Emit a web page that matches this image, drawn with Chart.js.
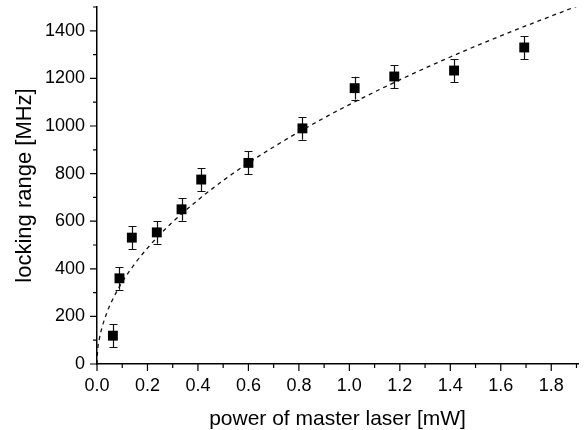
<!DOCTYPE html>
<html>
<head>
<meta charset="utf-8">
<script src="https://cdn.jsdelivr.net/npm/chart.js@4.4.0/dist/chart.umd.min.js"></script>
<style>
html,body{margin:0;padding:0;background:#fff;}
#wrap{width:585px;height:430px;}
</style>
</head>
<body>
<div id="wrap"><canvas id="c" width="585" height="430"></canvas></div>
<script>
const powerMW = [0.063, 0.089, 0.138, 0.237, 0.335, 0.413, 0.600, 0.814, 1.021, 1.178, 1.415, 1.693];
const lockingMHz = [119, 360, 531, 553, 650, 775, 845, 990, 1159, 1208, 1233, 1330];
const errMHz = [48, 48, 48, 48, 48, 48, 48, 48, 48, 48, 48, 48];

// Dashed fit curve
const fitX = [0.0, 0.002, 0.01, 0.02, 0.04, 0.06, 0.08, 0.1, 0.15, 0.2, 0.25, 0.3, 0.4, 0.5, 0.6, 0.7, 0.8, 0.9, 1.0, 1.2, 1.4, 1.6, 1.8, 1.906];
const fitY = [0, 49, 109, 154, 218, 267, 308, 345, 422, 487, 545, 597, 689, 771, 845, 912, 975, 1034, 1090, 1194, 1290, 1379, 1462, 1505];

// Axis tick values
const xTicks = [0.0, 0.2, 0.4, 0.6, 0.8, 1.0, 1.2, 1.4, 1.6, 1.8];
const xMinor = [0.1, 0.3, 0.5, 0.7, 0.9, 1.1, 1.3, 1.5, 1.7, 1.9];
const yTicks = [0, 200, 400, 600, 800, 1000, 1200, 1400];
const yMinor = [100, 300, 500, 700, 900, 1100, 1300, 1500];

const xTitle = 'power of master laser [mW]';
const yTitle = 'locking range [MHz]';

const FONT = "'Liberation Sans', Arial, sans-serif";

const errorBars = {
  id: 'errorBars',
  beforeDatasetsDraw(chart) {
    const ctx = chart.ctx;
    const xs = chart.scales.x, ys = chart.scales.y;
    ctx.save();
    ctx.strokeStyle = '#111';
    ctx.lineWidth = 1.2;
    powerMW.forEach((p, i) => {
      const px = Math.round(xs.getPixelForValue(p)) + 0.5;
      const yTop = ys.getPixelForValue(lockingMHz[i] + errMHz[i]);
      const yBot = ys.getPixelForValue(lockingMHz[i] - errMHz[i]);
      ctx.beginPath();
      ctx.moveTo(px, yTop); ctx.lineTo(px, yBot);
      ctx.moveTo(px - 4, Math.round(yTop) + 0.5); ctx.lineTo(px + 4, Math.round(yTop) + 0.5);
      ctx.moveTo(px - 4, Math.round(yBot) + 0.5); ctx.lineTo(px + 4, Math.round(yBot) + 0.5);
      ctx.stroke();
    });
    ctx.restore();
  }
};

const tickMarks = {
  id: 'tickMarks',
  afterDraw(chart) {
    const ctx = chart.ctx;
    const xs = chart.scales.x, ys = chart.scales.y;
    const a = chart.chartArea;
    ctx.save();
    ctx.strokeStyle = '#000';
    ctx.lineWidth = 1.2;
    ctx.beginPath();
    xTicks.forEach(v => { const p = xs.getPixelForValue(v); ctx.moveTo(p, a.bottom); ctx.lineTo(p, a.bottom + 7); });
    xMinor.forEach(v => { if (v <= xs.max) { const p = xs.getPixelForValue(v); ctx.moveTo(p, a.bottom); ctx.lineTo(p, a.bottom + 4); } });
    yTicks.forEach(v => { const p = ys.getPixelForValue(v); ctx.moveTo(a.left, p); ctx.lineTo(a.left - 7, p); });
    yMinor.forEach(v => { const p = ys.getPixelForValue(v); ctx.moveTo(a.left, p); ctx.lineTo(a.left - 4, p); });
    ctx.stroke();
    ctx.restore();
  }
};

new Chart(document.getElementById('c'), {
  type: 'scatter',
  data: {
    datasets: [
      {
        type: 'line',
        data: fitX.map((x, i) => ({x, y: fitY[i]})),
        borderColor: '#111',
        borderWidth: 1.3,
        borderDash: [4, 4],
        pointRadius: 0,
        cubicInterpolationMode: 'monotone',
        fill: false,
        order: 2
      },
      {
        data: powerMW.map((x, i) => ({x, y: lockingMHz[i]})),
        pointStyle: 'rect',
        pointRadius: 7,
        backgroundColor: '#000',
        borderColor: '#000',
        borderWidth: 0,
        order: 1
      }
    ]
  },
  options: {
    responsive: false,
    animation: false,
    layout: { padding: { left: 0, right: 3, top: 7, bottom: 0 } },
    plugins: { legend: { display: false }, tooltip: { enabled: false } },
    scales: {
      x: {
        type: 'linear',
        min: 0, max: 1.906,
        afterBuildTicks(s) { s.ticks = xTicks.map(v => ({value: v})); },
        afterFit(s) { s.height = 66; s.paddingLeft = 0; s.paddingRight = 0; },
        grid: { display: false, drawTicks: false },
        border: { display: true, color: '#000', width: 1.5 },
        ticks: {
          color: '#000', padding: 11,
          font: { family: FONT, size: 18 },
          maxRotation: 0,
          callback: v => v.toFixed(1)
        },
        title: { display: true, text: xTitle, color: '#000', font: { family: FONT, size: 21 }, padding: { top: 0, bottom: -2 } }
      },
      y: {
        type: 'linear',
        min: 0, max: 1500,
        afterBuildTicks(s) { s.ticks = yTicks.map(v => ({value: v})); },
        afterFit(s) { s.width = 97; s.paddingTop = 0; s.paddingBottom = 0; },
        grid: { display: false, drawTicks: false },
        border: { display: true, color: '#000', width: 1.5 },
        ticks: {
          color: '#000', padding: 12,
          font: { family: FONT, size: 18 },
          callback: v => String(v)
        },
        title: { display: true, text: yTitle, color: '#000', font: { family: FONT, size: 22 }, padding: { top: 12, bottom: 0 } }
      }
    }
  },
  plugins: [errorBars, tickMarks]
});
</script>
</body>
</html>
